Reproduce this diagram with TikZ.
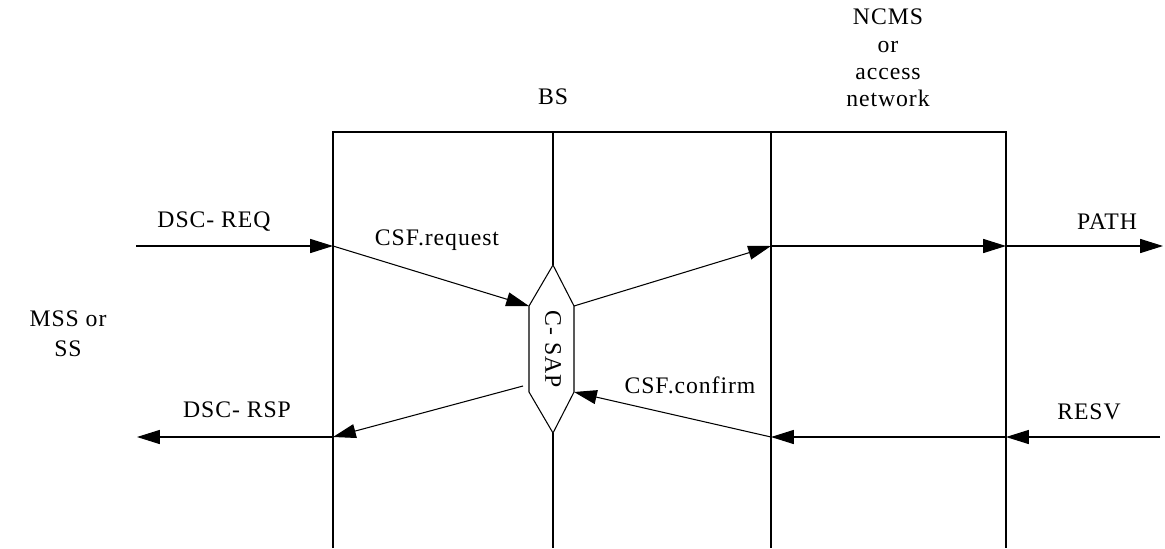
\documentclass[tikz,border=0pt]{standalone}
\usepackage{fontspec}
\setmainfont{Liberation Serif}[LetterSpace=4]
\usepackage{tikz}
\usetikzlibrary{arrows.meta}

\tikzset{
  msg/.style={-{Triangle[length=13pt,width=8pt]}},
  lbl/.style={inner sep=0pt}
}

\begin{document}
\begin{tikzpicture}[x=0.02cm, y=-0.02cm, line width=0.6pt,
  font=\fontsize{13.5}{15.5}\selectfont]
\useasboundingbox (0,0) rectangle (1165,548);

% entities
\node (BS)   [lbl] at (553,97) {BS};
\node (NCMS) [lbl, align=center] at (888,58) {NCMS\\or\\access\\network};
\node (MSS)  [lbl, align=center] at (68,334) {MSS or\\[1.5pt]SS};

% frame
\coordinate (TL) at (333,132);
\coordinate (TR) at (1006,132);
\coordinate (BL) at (333,548);
\coordinate (BR) at (1006,548);
\coordinate (TM) at (553,132);
\coordinate (BM) at (553,548);
\coordinate (TN) at (771,132);
\coordinate (BN) at (771,548);
\draw (BL) -- (TL) -- (TR) -- (BR);
\draw (TN) -- (BN);

% C-SAP
\coordinate (HT) at (553,265);
\coordinate (Htl) at (529,306);
\coordinate (Hbl) at (529,392);
\coordinate (HB) at (553,433);
\coordinate (Hbr) at (574,392);
\coordinate (Htr) at (574,306);
\draw (HT) -- (Htl) -- (Hbl) -- (HB) -- (Hbr) -- (Htr) -- cycle;
\node (SAP) [lbl, rotate=-90] at (553,349) {C- SAP};
\draw (TM) -- (HT);
\draw (HB) -- (BM);

% request path
\coordinate (REQin)  at (136,246);
\coordinate (BSin)   at (333,246);
\coordinate (NETin)  at (771,246);
\coordinate (NETout) at (1006,246);
\coordinate (PATHend) at (1163,246);
\draw[msg] (REQin) -- (BSin);
\draw[msg] (BSin) -- (Htl);
\draw[msg] (Htr) -- (NETin);
\draw[msg] (NETin) -- (NETout);
\draw[msg] (NETout) -- (PATHend);

% response path
\coordinate (RESVin) at (1160,437);
\coordinate (NETr)   at (1006,437);
\coordinate (NETl)   at (771,437);
\coordinate (RSPout) at (523,386);
\coordinate (BSout)  at (333,437);
\coordinate (RSPend) at (137,437);
\draw[msg] (RESVin) -- (NETr);
\draw[msg] (NETr) -- (NETl);
\draw[msg] (NETl) -- (Hbr);
\draw[msg] (RSPout) -- (BSout);
\draw[msg] (BSout) -- (RSPend);

% labels
\node (REQ)  [lbl] at (214,222) {DSC- REQ};
\node (CSFr) [lbl] at (437,240) {CSF.request};
\node (PATH) [lbl] at (1107,222) {PATH};
\node (RESV) [lbl] at (1089,412) {RESV};
\node (CSFc) [lbl] at (690,385) {CSF.confirm};
\node (RSP)  [lbl] at (237,410) {DSC- RSP};
\end{tikzpicture}
\end{document}
